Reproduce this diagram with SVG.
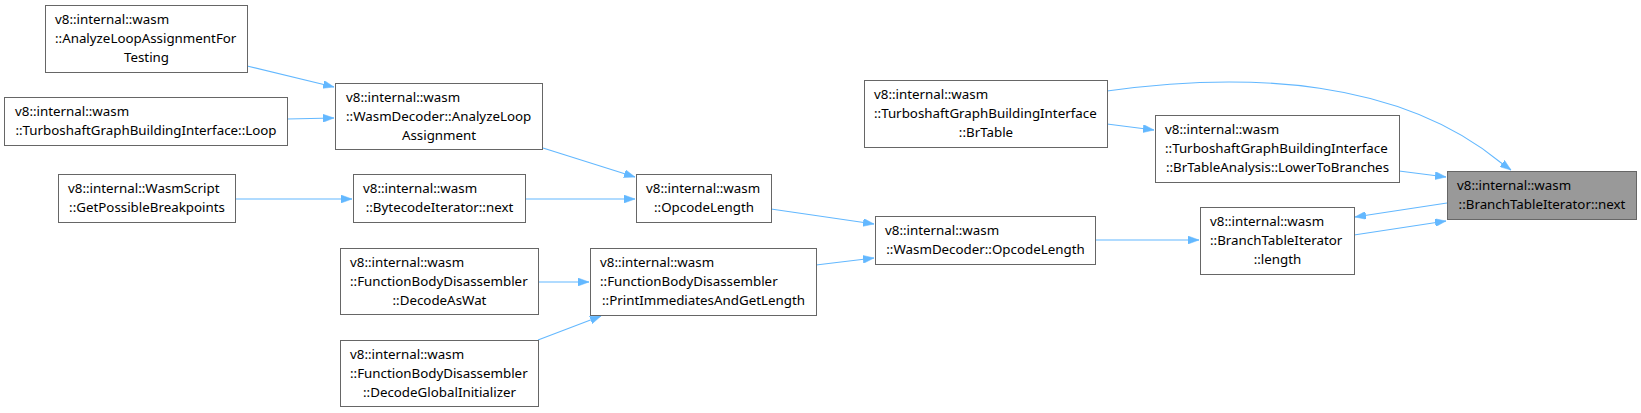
<svg xmlns="http://www.w3.org/2000/svg" width="1641" height="413" viewBox="0 0 1641 413">
<style>
.n rect{fill:#ffffff;stroke:#666666;stroke-width:1}
.n.hl rect{fill:#999999}
.n text{font-family:"Noto Sans","DejaVu Sans",sans-serif;font-size:13.33px;fill:#000000}
.n text.c{text-anchor:middle}
.e path{fill:none;stroke:#63b8ff;stroke-width:1.1;marker-end:url(#ah)}
</style>
<defs>
<marker id="ah" markerUnits="userSpaceOnUse" viewBox="0 0 11 8" refX="11" refY="4" markerWidth="11" markerHeight="8" orient="auto">
<path d="M0,0 L11,4 L0,8 z" fill="#63b8ff" stroke="#63b8ff" stroke-width="0.5"/>
</marker>
</defs>
<rect width="1641" height="413" fill="#ffffff"/>
<g id="edges" class="e">
<path d="M247,66 L334,87"/>
<path d="M287,119 L334,118"/>
<path d="M543,148 L635,177"/>
<path d="M525,199 L635,199"/>
<path d="M235,199 L352,199"/>
<path d="M538,282 L589,282"/>
<path d="M538,340 L601,316"/>
<path d="M771,209 L874,224"/>
<path d="M816,265 L874,258"/>
<path d="M1095,240 L1199,240"/>
<path d="M1354,235 L1446,221"/>
<path d="M1447,203 L1355,217"/>
<path d="M1399,171 L1446,177"/>
<path d="M1107,124 L1154,130"/>
<path d="M1107,91 C1250,71 1400,80 1500,162 L1511,170"/>
</g>
<g id="n1" class="n"><rect x="45.5" y="5.5" width="202" height="67"/><text x="55" y="24">v8::internal::wasm</text><text x="55" y="43">::AnalyzeLoopAssignmentFor</text><text class="c" x="146.5" y="62">Testing</text></g>
<g id="n2" class="n"><rect x="4.5" y="97.5" width="283" height="48"/><text x="15" y="116">v8::internal::wasm</text><text class="c" x="146" y="135">::TurboshaftGraphBuildingInterface::Loop</text></g>
<g id="n3" class="n"><rect x="335.5" y="83.5" width="207" height="66"/><text x="346" y="102">v8::internal::wasm</text><text x="346" y="121">::WasmDecoder::AnalyzeLoop</text><text class="c" x="439" y="140">Assignment</text></g>
<g id="n4" class="n"><rect x="58.5" y="174.5" width="177" height="48"/><text x="68" y="193">v8::internal::WasmScript</text><text class="c" x="147" y="212">::GetPossibleBreakpoints</text></g>
<g id="n5" class="n"><rect x="353.5" y="174.5" width="172" height="48"/><text x="363" y="193">v8::internal::wasm</text><text class="c" x="439.5" y="212">::BytecodeIterator::next</text></g>
<g id="n6" class="n"><rect x="340.5" y="248.5" width="198" height="66"/><text x="350" y="267">v8::internal::wasm</text><text x="350" y="286">::FunctionBodyDisassembler</text><text class="c" x="439.5" y="305">::DecodeAsWat</text></g>
<g id="n7" class="n"><rect x="340.5" y="340.5" width="198" height="66"/><text x="350" y="359">v8::internal::wasm</text><text x="350" y="378">::FunctionBodyDisassembler</text><text class="c" x="439.5" y="397">::DecodeGlobalInitializer</text></g>
<g id="n8" class="n"><rect x="636.5" y="174.5" width="135" height="48"/><text x="646" y="193">v8::internal::wasm</text><text class="c" x="704" y="212">::OpcodeLength</text></g>
<g id="n9" class="n"><rect x="590.5" y="248.5" width="226" height="67"/><text x="600" y="267">v8::internal::wasm</text><text x="600" y="286">::FunctionBodyDisassembler</text><text class="c" x="703.5" y="305">::PrintImmediatesAndGetLength</text></g>
<g id="n10" class="n"><rect x="864.5" y="80.5" width="243" height="67"/><text x="874" y="99">v8::internal::wasm</text><text x="874" y="118">::TurboshaftGraphBuildingInterface</text><text class="c" x="986" y="137">::BrTable</text></g>
<g id="n11" class="n"><rect x="875.5" y="216.5" width="220" height="48"/><text x="885" y="235">v8::internal::wasm</text><text class="c" x="985.5" y="254">::WasmDecoder::OpcodeLength</text></g>
<g id="n12" class="n"><rect x="1155.5" y="115.5" width="244" height="67"/><text x="1165" y="134">v8::internal::wasm</text><text x="1165" y="153">::TurboshaftGraphBuildingInterface</text><text class="c" x="1277.5" y="172">::BrTableAnalysis::LowerToBranches</text></g>
<g id="n13" class="n"><rect x="1200.5" y="207.5" width="154" height="67"/><text x="1210" y="226">v8::internal::wasm</text><text x="1210" y="245">::BranchTableIterator</text><text class="c" x="1277.5" y="264">::length</text></g>
<g id="n14" class="n hl"><rect x="1447.5" y="171.5" width="189" height="48"/><text x="1457" y="190">v8::internal::wasm</text><text class="c" x="1542" y="209">::BranchTableIterator::next</text></g>
</svg>
